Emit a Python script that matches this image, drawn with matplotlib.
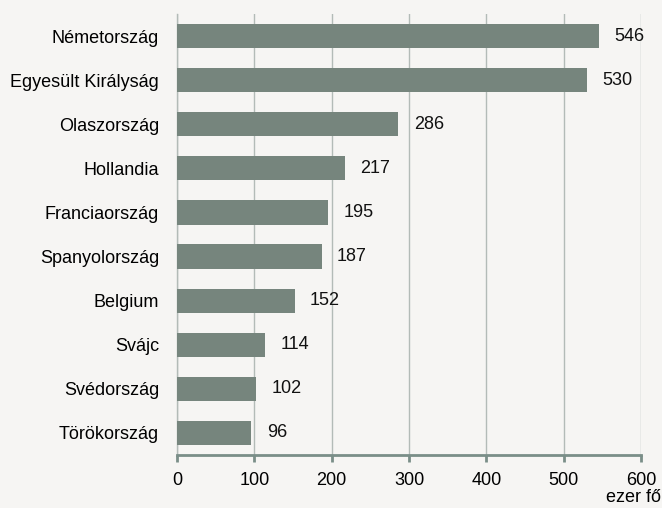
import numpy as np
import matplotlib.pyplot as plt

plt.rcParams['font.family'] = ['Liberation Sans', 'DejaVu Sans']

countries = ["Németország", "Egyesült Királyság", "Olaszország", "Hollandia",
             "Franciaország", "Spanyolország", "Belgium", "Svájc",
             "Svédország", "Törökország"]
values = [546, 530, 286, 217, 195, 187, 152, 114, 102, 96]
xticks = [0, 100, 200, 300, 400, 500, 600]

bg = "#f6f5f3"
bar_color = "#76857d"
grid_color = "#b3bbb7"
axis_color = "#7a8e88"
fs = 13

fig = plt.figure(figsize=(6.62, 5.08), dpi=100, facecolor=bg)
ax = fig.add_axes([0.2674, 0.1043, 0.7009, 0.8681], facecolor=bg)

y = np.arange(len(countries))
ax.barh(y, values, height=0.55, color=bar_color, zorder=3)
for yi, v in zip(y, values):
    ax.text(v + 20, yi, str(v), va="center", ha="left", fontsize=fs, color="#111111", zorder=4)

ax.set_ylim(len(countries) - 0.5, -0.5)
ax.set_xlim(0, 600)
ax.set_xticks(xticks)
ax.set_xticklabels([str(t) for t in xticks], fontsize=fs)
ax.set_yticks(y)
ax.set_yticklabels(countries, fontsize=fs)
ax.tick_params(axis="y", length=0, pad=13)
ax.tick_params(axis="x", length=5, width=2, color=axis_color, pad=7)

ax.grid(axis="x", color=grid_color, linewidth=1, zorder=0)
for s in ["top", "right"]:
    ax.spines[s].set_visible(False)
ax.spines["left"].set_color(grid_color)
ax.spines["left"].set_linewidth(1)
ax.spines["bottom"].set_color(axis_color)
ax.spines["bottom"].set_linewidth(2)

fig.text(0.999, 0.004, "ezer fő", ha="right", va="bottom", fontsize=fs)

fig.savefig("out.png", dpi=100, facecolor=bg)
